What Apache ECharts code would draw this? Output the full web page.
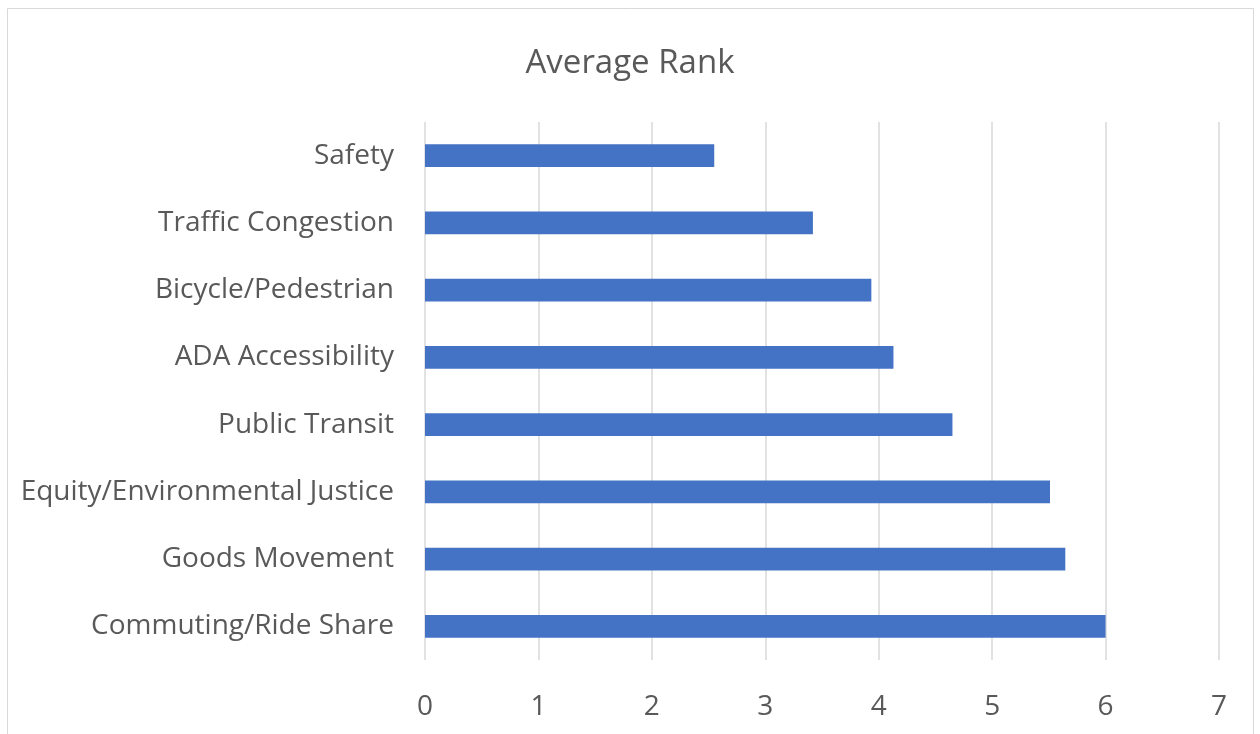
<!DOCTYPE html>
<html>
<head>
<meta charset="utf-8">
<script src="https://cdn.jsdelivr.net/npm/echarts@6/dist/echarts.min.js"></script>
<style>
  html, body { margin: 0; padding: 0; background: #fff; }
  #chart { width: 1260px; height: 734px; }
</style>
</head>
<body>
<div id="chart"></div>
<script>
// categories listed bottom to top (category axis starts at the bottom)
const categories = [
  "Commuting/Ride Share",
  "Goods Movement",
  "Equity/Environmental Justice",
  "Public Transit",
  "ADA Accessibility",
  "Bicycle/Pedestrian",
  "Traffic Congestion",
  "Safety"
];
const averageRank = [6.0, 5.645, 5.51, 4.65, 4.13, 3.935, 3.42, 2.55];
const xTicks = [0, 1, 2, 3, 4, 5, 6, 7];

const chart = echarts.init(document.getElementById("chart"));
const font = "'Open Sans', 'Noto Sans', sans-serif";

chart.setOption({
  animation: false,
  textStyle: { fontFamily: font },
  title: {
    text: "Average Rank",
    left: "center",
    top: 42,
    textStyle: { fontFamily: font, fontSize: 33, fontWeight: "normal", color: "#595959" }
  },
  graphic: [
    {
      type: "rect",
      shape: { x: 7.5, y: 8.5, width: 1246, height: 760 },
      style: { fill: "none", stroke: "#D9D9D9", lineWidth: 1 },
      silent: true
    }
  ],
  grid: { left: 425, right: 41, top: 122, bottom: 74, containLabel: false },
  xAxis: {
    type: "value",
    min: xTicks[0],
    max: xTicks[xTicks.length - 1],
    interval: 1,
    axisLine: { show: false },
    axisTick: { show: false },
    splitLine: { show: true, lineStyle: { color: "#D9D9D9", width: 1.5 } },
    axisLabel: { color: "#595959", fontSize: 28, margin: 33, fontFamily: font }
  },
  yAxis: {
    type: "category",
    data: categories,
    axisLine: { show: false },
    axisTick: { show: false },
    axisLabel: { color: "#595959", fontSize: 28, margin: 31, padding: [4, 0, 0, 0], fontFamily: font }
  },
  series: [
    {
      type: "bar",
      data: averageRank,
      barWidth: "34%",
      itemStyle: { color: "#4472C4" }
    }
  ]
});
</script>
</body>
</html>
